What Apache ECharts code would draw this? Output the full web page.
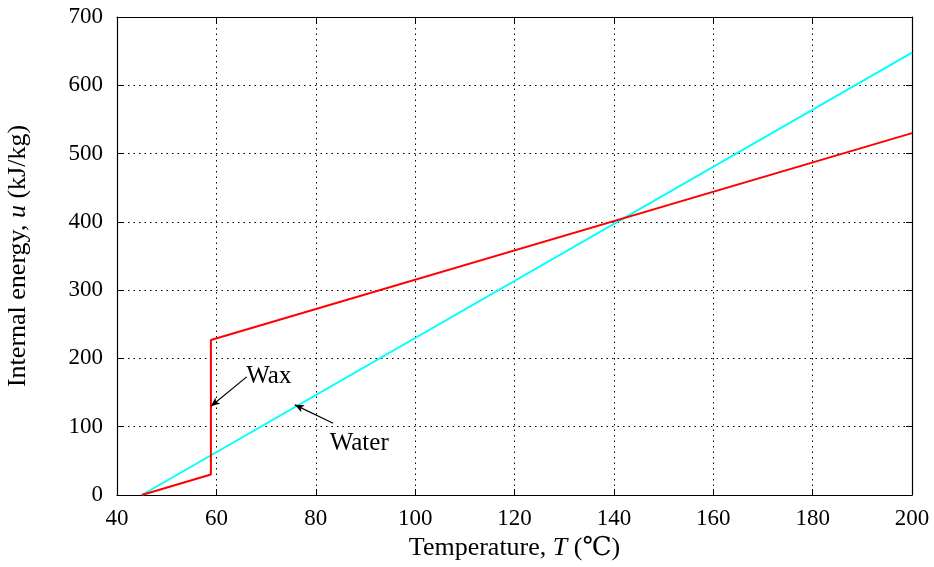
<!DOCTYPE html>
<html>
<head>
<meta charset="utf-8">
<script src="https://cdn.jsdelivr.net/npm/echarts@6/dist/echarts.min.js"></script>
<style>html,body{margin:0;padding:0;background:#fff}#c{width:934px;height:567px}</style>
</head>
<body>
<div id="c"></div>
<script>
// Data (T in °C, u in kJ/kg)
const waxT = [45, 58.9, 58.9, 200];
const waxU = [0, 30, 227, 530];
const waterT = [45, 200];
const waterU = [0, 648];
const xTicks = [40, 60, 80, 100, 120, 140, 160, 180, 200];
const yTicks = [0, 100, 200, 300, 400, 500, 600, 700];
// Annotations: text anchor (T,u), arrow tail (T,u), arrow head (T,u)
const waxNote = {text: 'Wax', textAt: [66.0, 174], tail: [66.1, 173], head: [58.9, 130]};
const waterNote = {text: 'Water', textAt: [82.8, 76], tail: [83.5, 105], head: [75.8, 132]};

const font = '"Liberation Serif", "DejaVu Serif", serif';
const chart = echarts.init(document.getElementById('c'), null, {renderer: 'canvas'});

function arrowLine(n) {
  return {
    silent: true, symbol: ['none', 'arrow'], symbolSize: [6, 9],
    lineStyle: {color: '#000', width: 1.2, type: 'solid'},
    label: {show: false},
    data: [[{coord: n.tail}, {coord: n.head}]]
  };
}

const axisCommon = {
  type: 'value', axisLine: {show: true, onZero: false, lineStyle: {color: '#000', width: 1.2}},
  axisTick: {show: true, inside: true, length: 6, lineStyle: {color: '#000'}},
  splitLine: {show: false}
};
const titleRich = {n: {fontFamily: font, fontSize: 26, color: '#000'}, i: {fontFamily: font, fontStyle: 'italic', fontSize: 26, color: '#000'}};

chart.setOption({
  animation: false,
  grid: {left: 117, right: 22, top: 17, bottom: 72, containLabel: false, outerBoundsMode: 'none'},
  xAxis: [
    Object.assign({}, axisCommon, {
      min: xTicks[0], max: xTicks[xTicks.length - 1], interval: 20, position: 'bottom',
      axisLabel: {color: '#000', fontFamily: font, fontSize: 23, margin: 12},
      splitLine: {show: true, lineStyle: {color: '#000', type: [1.5, 4], width: 1}},
      name: '{n|Temperature, }{i|T}{n| (℃)}', nameLocation: 'middle', nameGap: 40,
      nameTextStyle: {rich: titleRich}
    }),
    Object.assign({}, axisCommon, {
      min: xTicks[0], max: xTicks[xTicks.length - 1], interval: 20, position: 'top',
      axisLabel: {show: false}
    })
  ],
  yAxis: [
    Object.assign({}, axisCommon, {
      min: yTicks[0], max: yTicks[yTicks.length - 1], interval: 100, position: 'left',
      axisLabel: {color: '#000', fontFamily: font, fontSize: 23, margin: 14},
      splitLine: {show: true, lineStyle: {color: '#000', type: [1.5, 4], width: 1}},
      name: '{n|Internal energy, }{i|u}{n| (kJ/kg)}', nameLocation: 'middle', nameGap: 86, nameRotate: 90,
      nameTextStyle: {rich: titleRich}
    }),
    Object.assign({}, axisCommon, {
      min: yTicks[0], max: yTicks[yTicks.length - 1], interval: 100, position: 'right',
      axisLabel: {show: false}
    })
  ],
  series: [
    {
      name: 'Water', type: 'line', xAxisIndex: 0, yAxisIndex: 0, showSymbol: false, symbol: 'none',
      lineStyle: {color: '#00ffff', width: 2},
      data: waterT.map((t, i) => [t, waterU[i]]),
      markLine: arrowLine(waterNote)
    },
    {
      name: 'Wax', type: 'line', xAxisIndex: 0, yAxisIndex: 0, showSymbol: false, symbol: 'none',
      lineStyle: {color: '#ff0000', width: 2},
      data: waxT.map((t, i) => [t, waxU[i]]),
      markLine: arrowLine(waxNote)
    }
  ]
});

function placeNotes() {
  const items = [waxNote, waterNote].map(n => {
    const p = chart.convertToPixel({xAxisIndex: 0, yAxisIndex: 0}, n.textAt);
    return {type: 'text', x: p[0], y: p[1], style: {text: n.text, font: '25px ' + font, fill: '#000', textAlign: 'left', textVerticalAlign: 'middle'}};
  });
  chart.setOption({graphic: items});
}
placeNotes();
</script>
</body>
</html>
